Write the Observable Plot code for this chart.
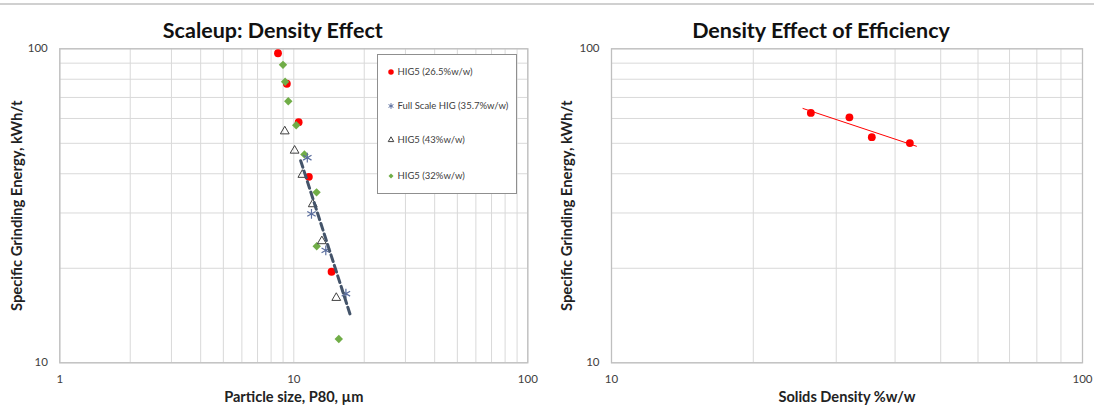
<!DOCTYPE html>
<html><head><meta charset="utf-8">
<script src="https://cdn.jsdelivr.net/npm/d3@7"></script>
<script src="https://cdn.jsdelivr.net/npm/@observablehq/plot@0.6"></script>
<style>
body{margin:0;background:#fff;font-family:Lato,"Open Sans",sans-serif;}
#wrap{position:relative;width:1094px;height:418px;overflow:hidden;background:#fff;}
#topline{position:absolute;left:0;top:3px;width:1094px;height:2px;background:#d0d0d0;z-index:5;}
.panel{position:absolute;top:0;width:547px;height:418px;}
#legend{position:absolute;left:377px;top:54px;width:140px;height:140px;border:1.5px solid #8f8f8f;background:#fff;box-sizing:border-box;z-index:4;}
.item{position:absolute;left:0;height:12px;font-size:9.5px;line-height:12px;color:#404040;white-space:nowrap;}
.item svg{position:absolute;left:9px;top:2px;overflow:visible;}
.item span{position:absolute;left:19.5px;top:0;}
</style></head><body>
<div id="wrap">
  <div id="topline"></div>
  <div class="panel" id="p1" style="left:0"></div>
  <div class="panel" id="p2" style="left:547px"></div>
  <div id="legend"></div>
</div>
<script>
// ---------- Left chart: Scaleup: Density Effect ----------
const leftTitle = "Scaleup: Density Effect";
const leftXLabel = "Particle size, P80, µm";
const yLabel = "Specific Grinding Energy, kWh/t";

// HIG5 (26.5%w/w)
const hig265X = [8.56, 9.34, 10.49, 11.60, 14.50];
const hig265Y = [96.8, 77.4, 58.4, 39.1, 19.5];
// Full Scale HIG (35.7%w/w)
const fullX = [11.42, 11.90, 13.70, 16.70];
const fullY = [45.0, 29.8, 22.8, 16.6];
// HIG5 (43%w/w)
const hig43X = [9.15, 10.08, 10.88, 12.05, 13.18, 15.19];
const hig43Y = [54.6, 47.4, 39.7, 32.0, 24.4, 16.1];
// HIG5 (32%w/w)
const hig32X = [8.99, 9.18, 9.47, 10.24, 11.10, 12.51, 12.53, 15.57];
const hig32Y = [88.9, 78.5, 68.1, 57.1, 46.1, 34.9, 23.5, 11.9];
// Power trendline range of Full Scale HIG series
const fullTrendRange = [10.7, 17.4];

const leftXTicks = [1, 10, 100];
const leftXGrid = [1,2,3,4,5,6,7,8,9,10,20,30,40,50,60,70,80,90,100];
const yTicks = [10, 100];
const yGrid = [10,20,30,40,50,60,70,80,90,100];

// ---------- Right chart: Density Effect of Efficiency ----------
const rightTitle = "Density Effect of Efficiency";
const rightXLabel = "Solids Density %w/w";
const densityX = [26.5, 32, 35.7, 43];
const densityY = [62.5, 60.5, 52.3, 50.1];
const densityTrendRange = [25.5, 44.4];
const rightXTicks = [10, 100];
const rightXGrid = [10,20,30,40,50,60,70,80,90,100];

// power-law least squares fit (straight line in log-log space)
function powerFit(xs, ys, range) {
  const lx = xs.map(Math.log10), ly = ys.map(Math.log10);
  const mx = d3.mean(lx), my = d3.mean(ly);
  const b = d3.sum(lx, (v, i) => (v - mx) * (ly[i] - my)) / d3.sum(lx, v => (v - mx) ** 2);
  const a = my - b * mx;
  return range.map(x => ({x, y: Math.pow(10, a + b * Math.log10(x))}));
}
const pts = (xs, ys) => xs.map((x, i) => ({x, y: ys[i]}));

const baseStyle = {fontFamily: "Lato, sans-serif", fontSize: "11.5px", color: "#595959", background: "transparent", overflow: "visible"};
const M = {marginTop: 48.3, marginBottom: 55.7};

function common(xGrid, xTicks, title, xLabel, titleDx, yDx) {
  return [
    Plot.gridX(xGrid, {stroke: "#d9d9d9", strokeOpacity: 1, strokeWidth: 1}),
    Plot.gridY(yGrid, {stroke: "#d9d9d9", strokeOpacity: 1, strokeWidth: 1}),
    Plot.frame({stroke: "#bfbfbf", strokeWidth: 1.3}),
    Plot.axisX(xTicks, {tickSize: 0, tickPadding: 12.5, tickFormat: d => String(d), label: null, fill: "#404040"}),
    Plot.axisY(yTicks, {tickSize: 0, tickPadding: 12, tickFormat: d => String(d), label: null, fill: "#404040"}),
    Plot.text([title], {text: d => d, frameAnchor: "top", textAnchor: "middle", dx: titleDx, dy: -26.5, fontSize: 21.5, fontWeight: "bold", fill: "#111"}),
    Plot.text([xLabel], {text: d => d, frameAnchor: "bottom", textAnchor: "middle", dy: 39, fontSize: 14.6, fontWeight: "bold", fill: "#222"}),
    Plot.text([yLabel], {text: d => d, frameAnchor: "left", textAnchor: "middle", rotate: -90, dx: yDx, fontSize: 14.8, fontWeight: "bold", fill: "#222"})
  ];
}

const left = Plot.plot({
  width: 547, height: 418, ...M, marginLeft: 59.3, marginRight: 19.7,
  style: baseStyle,
  x: {type: "log", domain: [1, 100]},
  y: {type: "log", domain: [10, 100]},
  marks: [
    ...common(leftXGrid, leftXTicks, leftTitle, leftXLabel, -21, -42.7),
    Plot.dot(pts(hig265X, hig265Y), {x: "x", y: "y", r: 3.9, fill: "#ff0000", stroke: "none"}),
    Plot.dot(pts(hig32X, hig32Y), {x: "x", y: "y", r: 3.8, symbol: "diamond2", fill: "#70ad47", stroke: "none"}),
    Plot.dot(pts(hig43X, hig43Y), {x: "x", y: "y", r: 4.2, symbol: "triangle2", fill: "none", stroke: "#404040", strokeWidth: 1}),
    Plot.dot(pts(fullX, fullY), {x: "x", y: "y", r: 4.6, symbol: "asterisk", fill: "none", stroke: "#5b6e9e", strokeWidth: 1.2}),
    Plot.line(powerFit(fullX, fullY, fullTrendRange), {x: "x", y: "y", stroke: "#44546a", strokeWidth: 3, strokeDasharray: "7,4"})
  ]
});
document.getElementById("p1").append(left);

const right = Plot.plot({
  width: 547, height: 418, ...M, marginLeft: 64, marginRight: 12,
  style: baseStyle,
  x: {type: "log", domain: [10, 100]},
  y: {type: "log", domain: [10, 100]},
  marks: [
    ...common(rightXGrid, rightXTicks, rightTitle, rightXLabel, -26, -44),
    Plot.line(powerFit(densityX, densityY, densityTrendRange), {x: "x", y: "y", stroke: "#ff0000", strokeWidth: 1}),
    Plot.dot(pts(densityX, densityY), {x: "x", y: "y", r: 3.9, fill: "#ff0000", stroke: "none"})
  ]
});
document.getElementById("p2").append(right);

// ---------- Legend ----------
const legendLabels = ["HIG5 (26.5%w/w)", "Full Scale HIG (35.7%w/w)", "HIG5 (43%w/w)", "HIG5 (32%w/w)"];
const legendSyms = [
  {sym: d3.symbolCircle, size: 24, fill: "#ff0000", stroke: "none"},
  {sym: d3.symbolAsterisk, size: 22, fill: "none", stroke: "#5b6e9e"},
  {sym: d3.symbolTriangle2, size: 22, fill: "none", stroke: "#404040"},
  {sym: d3.symbolDiamond2, size: 16, fill: "#70ad47", stroke: "none"}
];
const legendRows = [18.3, 52.7, 86.7, 122];
const lg = document.getElementById("legend");
legendLabels.forEach((lab, i) => {
  const s = legendSyms[i];
  const div = document.createElement("div");
  div.className = "item";
  div.style.top = (legendRows[i] - 6 - 1.5) + "px";
  const path = d3.symbol(s.sym, s.size)();
  div.innerHTML = `<svg width="8" height="8" viewBox="-4 -4 8 8"><path d="${path}" fill="${s.fill}" stroke="${s.stroke}" stroke-width="1"/></svg><span>${lab}</span>`;
  lg.append(div);
});
</script>
</body></html>
